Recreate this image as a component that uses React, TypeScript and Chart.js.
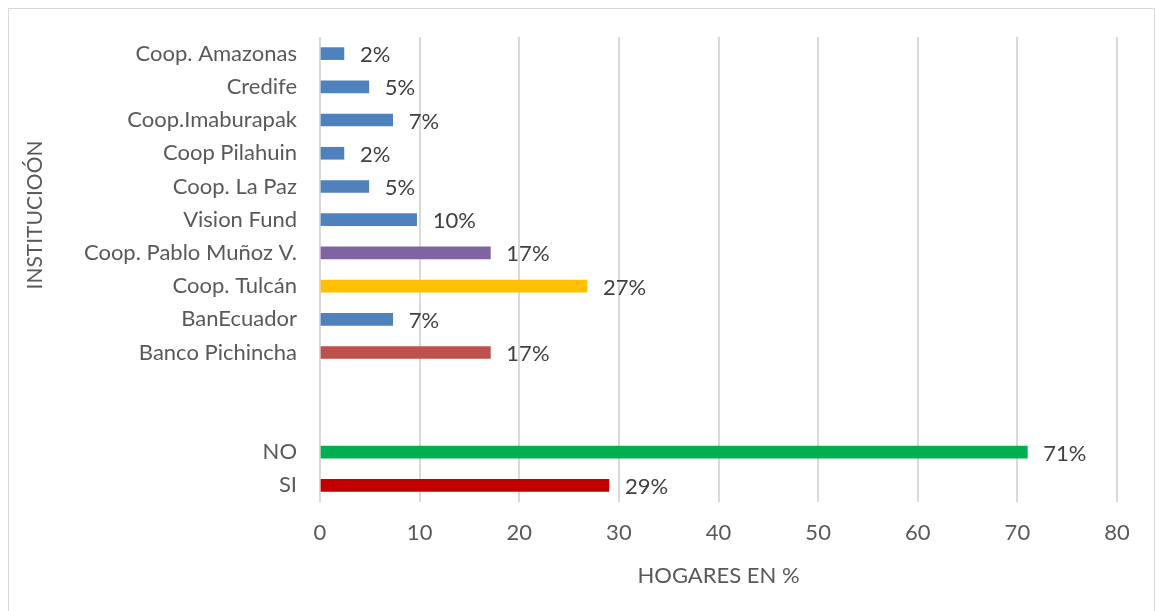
import React, { useEffect, useRef } from "react";
import { Chart, registerables } from "chart.js";

Chart.register(...registerables);

const categories = [
  "Coop. Amazonas",
  "Credife",
  "Coop.Imaburapak",
  "Coop Pilahuin",
  "Coop. La Paz",
  "Vision Fund",
  "Coop. Pablo Muñoz V.",
  "Coop. Tulcán",
  "BanEcuador",
  "Banco Pichincha",
  "",
  " ",
  "NO",
  "SI",
];
const values: (number | null)[] = [2.4, 4.9, 7.3, 2.4, 4.9, 9.7, 17.1, 26.8, 7.3, 17.1, null, null, 71.0, 29.0];
const valueLabels = ["2%", "5%", "7%", "2%", "5%", "10%", "17%", "27%", "7%", "17%", "", "", "71%", "29%"];
const barColors = [
  "#4f81bd",
  "#4f81bd",
  "#4f81bd",
  "#4f81bd",
  "#4f81bd",
  "#4f81bd",
  "#8064a2",
  "#ffc000",
  "#4f81bd",
  "#c0504d",
  "#4f81bd",
  "#4f81bd",
  "#00b050",
  "#c00000",
];
const xTicks = [0, 10, 20, 30, 40, 50, 60, 70, 80];
const xTitle = "HOGARES EN %";
const yTitle = "INSTITUCIOÓN";

const FONT = "Lato, 'Open Sans', sans-serif";
const FS = 22;

export default function App() {
  const ref = useRef<HTMLCanvasElement | null>(null);
  useEffect(() => {
    if (!ref.current) return;
    const frame = {
      id: "frame",
      beforeDraw(chart: any) {
        const ctx = chart.ctx;
        ctx.save();
        ctx.fillStyle = "#ffffff";
        ctx.fillRect(0, 0, chart.width, chart.height);
        ctx.strokeStyle = "#d9d9d9";
        ctx.lineWidth = 1;
        ctx.strokeRect(8.5, 8.5, 1146, 620);
        ctx.restore();
      },
    };
    const labelsPlugin = {
      id: "valLabels",
      afterDatasetsDraw(chart: any) {
        const ctx = chart.ctx;
        const meta = chart.getDatasetMeta(0);
        ctx.save();
        ctx.font = `${FS}px ${FONT}`;
        ctx.fillStyle = "#404040";
        ctx.textAlign = "left";
        ctx.textBaseline = "middle";
        meta.data.forEach((el: any, i: number) => {
          const t = valueLabels[i];
          if (!t || values[i] == null) return;
          ctx.fillText(t, el.x + 16, el.y + 1.5);
        });
        ctx.fillStyle = "#595959";
        ctx.textAlign = "center";
        ctx.font = `${FS - 1}px ${FONT}`;
        ctx.translate(35, 215);
        ctx.rotate(-Math.PI / 2);
        ctx.fillText(yTitle, 0, 0);
        ctx.restore();
      },
    };
    const chart = new Chart(ref.current, {
      type: "bar",
      data: {
        labels: categories,
        datasets: [
          {
            data: values,
            backgroundColor: barColors,
            barThickness: 12,
            borderWidth: 0,
          },
        ],
      },
      options: {
        indexAxis: "y",
        responsive: false,
        animation: false,
        layout: { padding: { left: 0, right: 39, top: 37, bottom: 0 } },
        plugins: {
          legend: { display: false },
          tooltip: { enabled: false },
        },
        scales: {
          x: {
            type: "linear",
            min: 0,
            max: 80,
            afterBuildTicks(scale: any) {
              scale.ticks = xTicks.map((v) => ({ value: v }));
            },
            afterFit(scale: any) {
              scale.height = 109;
            },
            grid: { color: "#d9d9d9", lineWidth: 2, drawTicks: false },
            border: { display: false },
            ticks: {
              padding: 18,
              color: "#595959",
              font: { family: FONT, size: FS },
            },
            title: {
              display: true,
              text: xTitle,
              color: "#595959",
              font: { family: FONT, size: FS },
              padding: { top: 0, bottom: 22 },
            },
          },
          y: {
            type: "category",
            afterFit(scale: any) {
              scale.width = 320;
            },
            grid: { display: false, drawTicks: false },
            border: { display: false },
            ticks: {
              padding: 23,
              autoSkip: false,
              color: "#595959",
              font: { family: FONT, size: FS },
            },
          },
        },
      },
      plugins: [frame, labelsPlugin],
    } as any);
    return () => chart.destroy();
  }, []);
  return (
    <div style={{ position: "absolute", left: 0, top: 0, width: 1156, height: 611 }}>
      <canvas ref={ref} width={1156} height={611} style={{ display: "block" }} />
    </div>
  );
}
